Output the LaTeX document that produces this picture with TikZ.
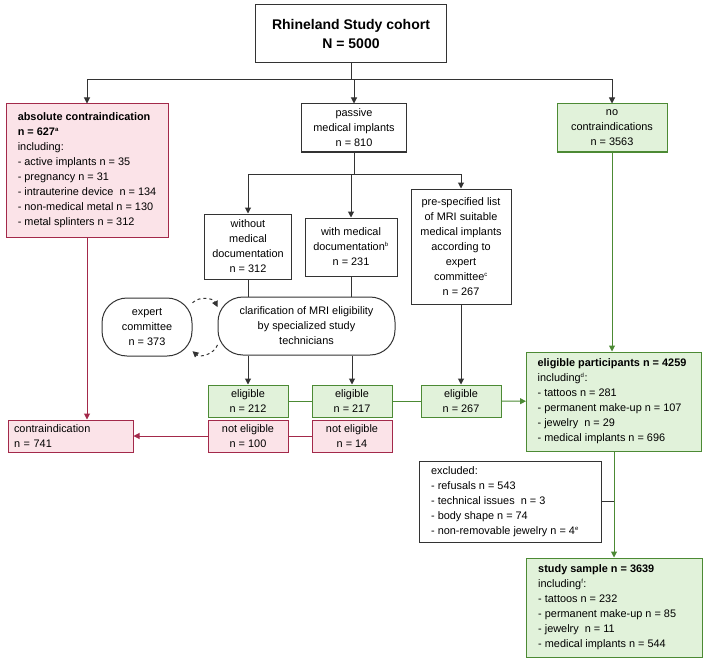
\documentclass[tikz,border=0pt]{standalone}
\usepackage{fontspec}
\setmainfont{Liberation Sans}
\usetikzlibrary{arrows.meta,calc}
\definecolor{redline}{HTML}{A3294A}
\definecolor{redfill}{HTML}{FBE3E8}
\definecolor{greenline}{HTML}{4C8A34}
\definecolor{greenfill}{HTML}{E1F2DA}
\definecolor{darkline}{HTML}{333333}
\tikzset{
  box/.style={draw=darkline,line width=1pt,align=center,inner sep=0pt,
    font=\fontsize{10.9}{15}\selectfont},
  redbox/.style={box,draw=redline,fill=redfill},
  greenbox/.style={box,draw=greenline,fill=greenfill},
  roundbox/.style={box,rounded corners=25pt},
  line/.style={draw=darkline,line width=1pt},
  arr/.style={line,-{Triangle[length=6pt,width=6pt]}},
  rline/.style={draw=redline,line width=1pt},
  rarr/.style={rline,-{Triangle[length=6pt,width=6pt]}},
  gline/.style={draw=greenline,line width=1pt},
  garr/.style={gline,-{Triangle[length=6pt,width=6pt]}},
}
\newcommand{\supnote}[1]{\textsuperscript{\fontsize{6}{6}\selectfont #1}}
\begin{document}
\begin{tikzpicture}[x=1pt,y=-1pt]
  \useasboundingbox (0,0) rectangle (708,663);
  % top row
  \node[box,minimum width=191pt,minimum height=58pt,font=\fontsize{14}{19}\selectfont\bfseries] (top) at (351,34) {Rhineland Study cohort\\N = 5000};
  \node[redbox,minimum width=162pt,minimum height=133pt,align=left] (absc) at (87,170.5)
    {\textbf{absolute contraindication}\\\textbf{n = 627\supnote{a}}\\including:\\- active implants n = 35\\- pregnancy n = 31\\- intrauterine device~ n = 134\hspace*{4pt}\\- non-medical metal n = 130\\- metal splinters n = 312};
  \node[box,minimum width=105pt,minimum height=48pt] (passive) at (354,128) {passive\\medical implants\\n = 810};
  \node[greenbox,minimum width=110pt,minimum height=48pt] (nocontra) at (612,128) {no\\contraindications\\n = 3563};
  % passive implants
  \node[box,minimum width=87pt,minimum height=65pt] (without) at (248,246.5) {without\\medical\\documentation\\n = 312};
  \node[box,minimum width=92pt,minimum height=58pt] (with) at (351,247) {with medical\\documentation\supnote{b}\\n = 231};
  \node[box,minimum width=100pt,minimum height=115pt] (prespec) at (461,246.5) {pre-specified list\\of MRI suitable\\medical implants\\according to\\expert\\committee\supnote{c}\\n = 267};
  \node[roundbox,minimum width=90pt,minimum height=58pt] (expert) at (147,327) {expert\\committee\\n = 373};
  \node[roundbox,minimum width=177pt,minimum height=58pt] (clarif) at (306.5,326) {clarification of MRI eligibility\\by specialized study\\technicians};
  % eligibility
  \node[greenbox,minimum width=80pt,minimum height=32pt] (elig1) at (248,401) {eligible\\n = 212};
  \node[greenbox,minimum width=80pt,minimum height=32pt] (elig2) at (352,401) {eligible\\n = 217};
  \node[greenbox,minimum width=80pt,minimum height=32pt] (elig3) at (461,401) {eligible\\n = 267};
  \node[redbox,minimum width=80pt,minimum height=32pt] (nelig1) at (248,436) {not eligible\\n = 100};
  \node[redbox,minimum width=80pt,minimum height=32pt] (nelig2) at (352,436) {not eligible\\n = 14};
  \node[redbox,minimum width=125pt,minimum height=32pt,text width=113pt,align=left] (contra) at (70.5,436) {contraindication\\n = 741};
  % right column
  \node[greenbox,minimum width=175pt,minimum height=99pt,align=left] (eligpart) at (614,401.5)
    {\textbf{eligible participants n = 4259}\hspace*{4pt}\\including\supnote{d}:\\- tattoos n = 281\\- permanent make-up n = 107\\- jewelry~ n = 29\\- medical implants n = 696};
  \node[box,minimum width=182pt,minimum height=81pt,align=left] (excluded) at (510,501.5)
    {excluded:\\- refusals n = 543\\- technical issues~ n = 3\\- body shape n = 74\\- non-removable jewelry n = 4\supnote{e}\hspace*{10pt}};
  \node[greenbox,minimum width=176pt,minimum height=99pt,align=left] (sample) at (614,607.5)
    {\textbf{study sample n = 3639}\\including\supnote{f}:\\- tattoos n = 232\\- permanent make-up n = 85\\- jewelry~ n = 11\\- medical implants n = 544\hspace*{24pt}};
  % connectors
  \draw[line] (top.south) -- ++(0,16) coordinate (br);
  \draw[arr] (br) -| (absc.north);
  \draw[arr] (br) -| (nocontra.north);
  \draw[arr] (br) -- (br -| passive.north) -- (passive.north);
  \draw[line] (passive.south) -- ++(0,22) coordinate (br2);
  \draw[arr] (br2) -| (without.north);
  \draw[arr] (br2) -| (with.north);
  \draw[arr] (br2) -| (prespec.north);
  \draw[line] (without.south) -- (without.south |- clarif.north);
  \draw[line] (with.south) -- (with.south |- clarif.north);
  \draw[arr,dashed] (expert.28) to[bend left=55] (clarif.168);
  \draw[arr,dashed] (clarif.192) to[bend left=55] (expert.-28);
  \draw[arr] (elig1.north |- clarif.south) -- (elig1.north);
  \draw[arr] (elig2.north |- clarif.south) -- (elig2.north);
  \draw[arr] (prespec.south) -- (elig3.north);
  \path[gline] (elig1) edge (elig2) (elig2) edge (elig3);
  \draw[garr] (elig3) -- (eligpart);
  \path[rline] (nelig2) edge (nelig1);
  \draw[rarr] (nelig1) -- (contra);
  \draw[rarr] (absc.south) -- (absc.south |- contra.north);
  \draw[garr] (nocontra.south) -- (nocontra.south |- eligpart.north);
  \draw[garr] (eligpart.south) -- (sample.north);
  \draw[line] (excluded.east) -- (excluded.east -| sample.north);
\end{tikzpicture}
\end{document}
